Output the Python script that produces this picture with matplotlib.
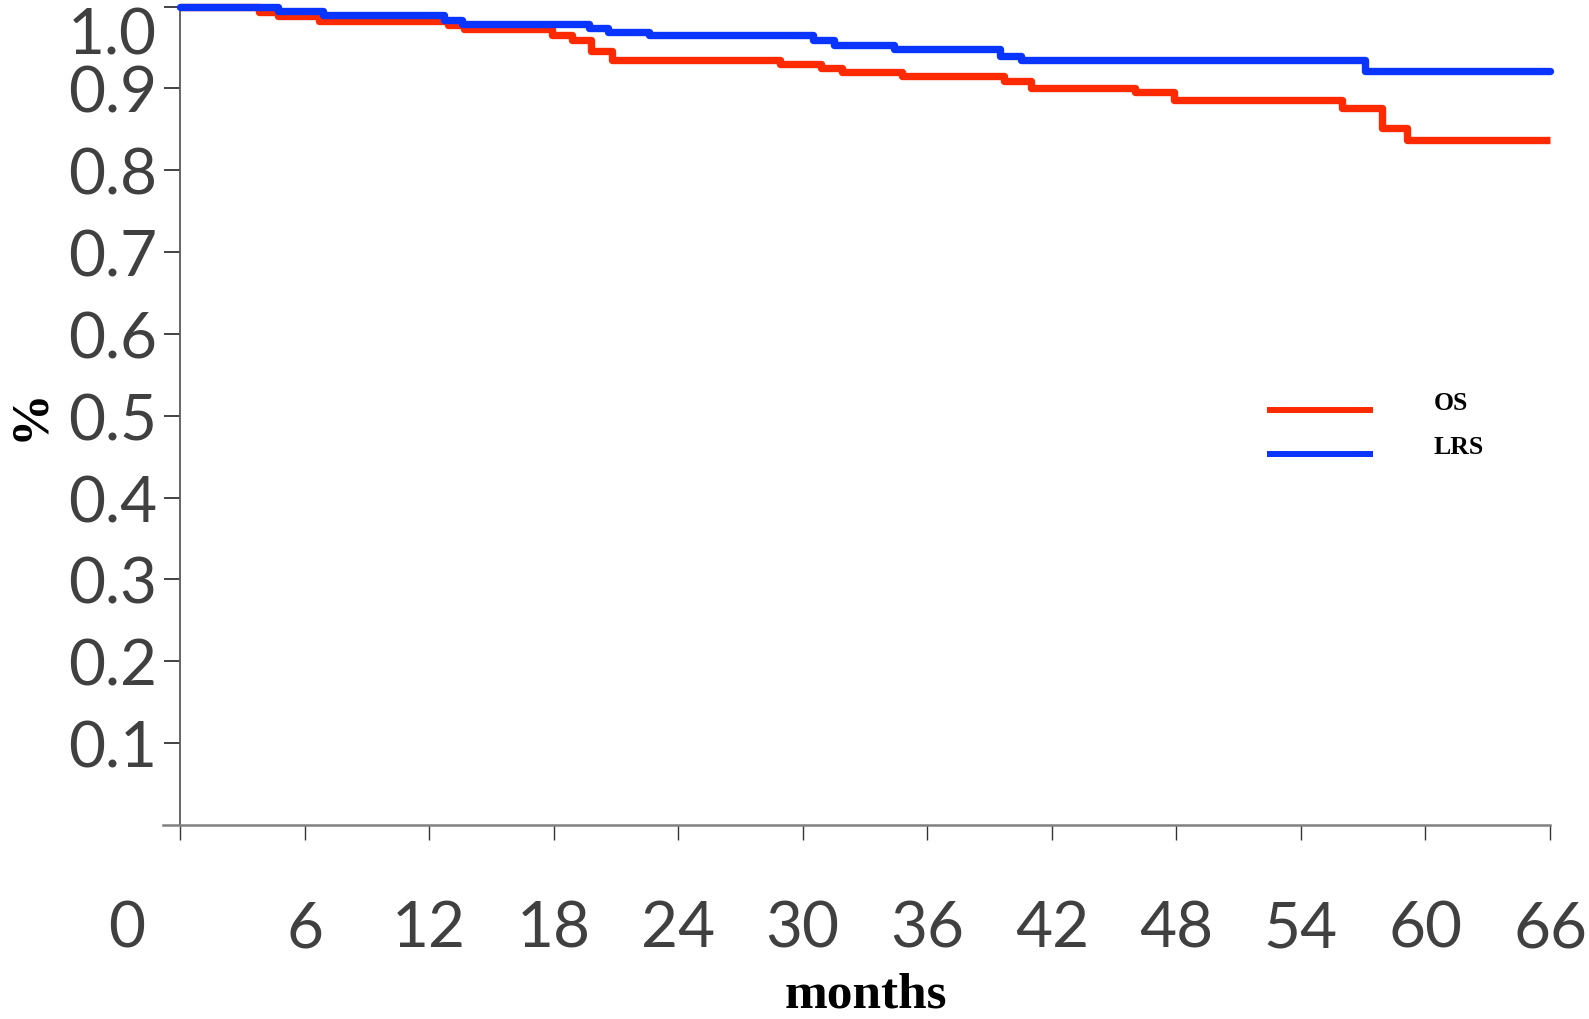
import numpy as np
import matplotlib
matplotlib.use("Agg")
import matplotlib.pyplot as plt
from matplotlib.transforms import ScaledTranslation

# ---- data ----
os_months = [0, 3.8, 4.7, 6.7, 12.9, 13.7, 17.9, 18.9, 19.8, 20.8, 28.9, 30.9,
             31.9, 34.8, 39.7, 41.0, 46.0, 47.9, 56.0, 57.9, 59.1, 66]
os_surv = [1.0, 0.9933, 0.9880, 0.9826, 0.9778, 0.9728, 0.9648, 0.9594, 0.9452,
           0.9349, 0.9297, 0.9248, 0.9199, 0.9146, 0.9092, 0.9003, 0.8954,
           0.8860, 0.8758, 0.8513, 0.8370, 0.8370]

lrs_months = [0, 4.7, 6.9, 12.7, 13.6, 19.7, 20.6, 22.6, 30.5, 31.5, 34.4, 39.5,
              40.5, 57.1, 66]
lrs_surv = [1.0, 0.9941, 0.9892, 0.9838, 0.9786, 0.9737, 0.9688, 0.9648, 0.9587,
            0.9533, 0.9484, 0.9391, 0.9342, 0.9207, 0.9215]

x_ticks = [0, 6, 12, 18, 24, 30, 36, 42, 48, 54, 60, 66]
x_ticklabels = ["0", "6", "12", "18", "24", "30", "36", "42", "48", "54", "60", "66"]
y_ticks = [0.1, 0.2, 0.3, 0.4, 0.5, 0.6, 0.7, 0.8, 0.9, 1.0]
y_ticklabels = ["0.1", "0.2", "0.3", "0.4", "0.5", "0.6", "0.7", "0.8", "0.9", "1.0"]
series_labels = ["OS", "LRS"]

RED = "#ff2a00"
BLUE = "#0a34ff"
TICK_FONT = ["Lato", "DejaVu Sans"]
SERIF = ["Liberation Serif", "DejaVu Serif"]

W, H = 1589, 1020
fig = plt.figure(figsize=(W / 100, H / 100), dpi=100)
fig.patch.set_facecolor("white")
ax = fig.add_axes([163 / W, 1 - 826 / H, (1550 - 163) / W, (826 - 7.5) / H])

l_os, = ax.step(os_months, os_surv, where="post", color=RED, lw=5.3,
                solid_joinstyle="round", solid_capstyle="butt",
                label=series_labels[0], clip_on=False, zorder=3)
l_lrs, = ax.step(lrs_months, lrs_surv, where="post", color=BLUE, lw=5.3,
                 solid_joinstyle="round", solid_capstyle="round",
                 label=series_labels[1], clip_on=False, zorder=4)

ax.set_xlim(-0.82, 66)
ax.set_ylim(0, 1.0)

for s in ["top", "right"]:
    ax.spines[s].set_visible(False)
ax.spines["left"].set_position(("data", 0))
ax.spines["left"].set_color("#595959")
ax.spines["left"].set_linewidth(1.3)
ax.spines["bottom"].set_color("#808080")
ax.spines["bottom"].set_linewidth(1.8)

ax.set_xticks(x_ticks)
ax.set_xticklabels(x_ticklabels, fontfamily=TICK_FONT, fontsize=46, color="#404040")
ax.set_yticks(y_ticks)
ax.set_yticklabels(y_ticklabels, fontfamily=TICK_FONT, fontsize=46, color="#404040")

ax.tick_params(axis="x", direction="out", length=10.5, width=1.0, color="#333333", pad=43)
ax.tick_params(axis="y", direction="out", length=11.5, width=1.2, color="#222222", pad=5)

# "1.0" label sits below its tick (clamped at the top edge)
ylabs = ax.get_yticklabels()
ylabs[-1].set_va("top")
# "0" label is placed left of its tick
xlabs = ax.get_xticklabels()
xlabs[0].set_transform(xlabs[0].get_transform() +
                       ScaledTranslation(-53 / 100, 0, fig.dpi_scale_trans))

fig.text(30 / W, 1 - 415 / H, "%", rotation=90, ha="center", va="center",
         fontsize=38, fontweight="bold", fontfamily=SERIF)
fig.text(866 / W, 1 - 1008 / H, "months", ha="center", va="baseline",
         fontsize=37, fontweight="bold", fontfamily=SERIF)

leg = ax.legend(handles=[l_os, l_lrs], loc="upper left",
                bbox_to_anchor=(0.796, 0.5376 - 16 / 818.5), frameon=False,
                prop={"family": SERIF, "weight": "bold", "size": 18.5},
                handlelength=4.12, handletextpad=2.37, labelspacing=0.81,
                borderpad=0, borderaxespad=0)
for ln in leg.get_lines():
    ln.set_linewidth(4.3)
    ln.set_solid_capstyle("butt")
for t in leg.get_texts():
    t.set_transform(t.get_transform() + ScaledTranslation(0, 10 / 100, fig.dpi_scale_trans))

fig.savefig("out.png", dpi=100, facecolor="white")
